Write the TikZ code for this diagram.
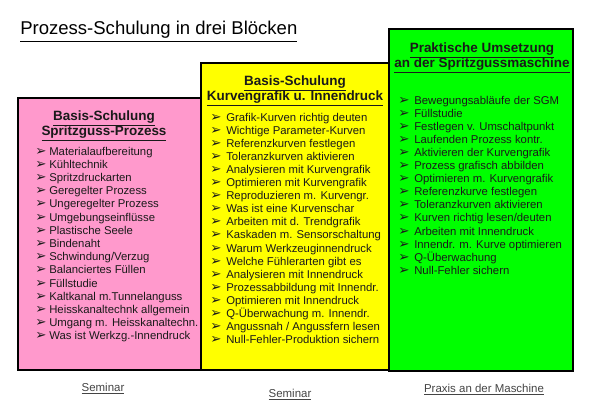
\documentclass[tikz,border=0pt]{standalone}
\usepackage{fontspec}
\setmainfont{Liberation Sans}
\newfontfamily\symfont{DejaVu Sans}
\usetikzlibrary{positioning}

\definecolor{pinkfill}{HTML}{FF99CC}
\definecolor{yellowfill}{HTML}{FFFF00}
\definecolor{greenfill}{HTML}{00FF00}
\definecolor{itemtext}{HTML}{1A1A1A}
\definecolor{capgray}{HTML}{444444}

\newcommand{\bul}[1]{\makebox[#1][l]{\symfont\fontsize{10}{10}\selectfont ➢}}
\newcommand{\ulined}[2]{\leavevmode\vtop{\hbox{#2}\kern1.3pt\hrule height #1}}

\tikzset{
  blockbox/.style={draw=black, line width=2.2pt},
  head/.style={align=center, inner sep=0pt, text=itemtext,
    font=\bfseries\fontsize{10.1}{11.6}\selectfont},
  item/.style={anchor=base west, inner sep=0pt, text=itemtext,
    font=\fontsize{8.5}{10}\selectfont},
  caption/.style={anchor=base, inner sep=0pt, text=capgray,
    font=\fontsize{8.6}{10}\selectfont}
}

\begin{document}
\begin{tikzpicture}[x=0.75pt, y=-0.75pt]
  \useasboundingbox (0,0) rectangle (595,410);

  \node[anchor=base west, inner sep=0pt, font=\fontsize{13.9}{16}\selectfont]
    (title) at (20,35) {\ulined{0.8pt}{Prozess-Schulung in drei Blöcken}};

  % die drei Bloecke
  \draw[blockbox, fill=pinkfill] (18,98) rectangle (203,370);
  \draw[blockbox, fill=yellowfill] (201,63) rectangle (390,370);
  \draw[blockbox, fill=greenfill] (389,29) rectangle (573,371);

  \node[head] (pinkhead) at (104,126) {\ulined{0.7pt}{Basis-Schulung}\\\ulined{0.7pt}{Spritzguss-Prozess}};
  \node[head] (yellowhead) at (295,91) {\ulined{0.7pt}{Basis-Schulung}\\\ulined{0.7pt}{Kurvengrafik u. Innendruck}};
  \node[head] (greenhead) at (482,58) {\ulined{0.7pt}{Praktische Umsetzung}\\\ulined{0.7pt}{an der Spritzgussmaschine}};

  \foreach \t [count=\i] in {Materialaufbereitung, Kühltechnik, Spritzdruckarten,
      Geregelter Prozess, Ungeregelter Prozess, Umgebungseinflüsse, Plastische Seele,
      Bindenaht, Schwindung/Verzug, Balanciertes Füllen, Füllstudie,
      Kaltkanal m.Tunnelanguss, Heisskanaltechnk allgemein, Umgang m. Heisskanaltechn.,
      Was ist Werkzg.-Innendruck}{
    \node[item] (pinkitem\i) at (35,{155+(\i-1)*13.2}) {\bul{10.5pt}\t};
  }

  \foreach \t [count=\i] in {Grafik-Kurven richtig deuten, Wichtige Parameter-Kurven,
      Referenzkurven festlegen, Toleranzkurven aktivieren, Analysieren mit Kurvengrafik,
      Optimieren mit Kurvengrafik, Reproduzieren m. Kurvengr., Was ist eine Kurvenschar,
      Arbeiten mit d. Trendgrafik, Kaskaden m. Sensorschaltung, Warum Werkzeuginnendruck,
      Welche Fühlerarten gibt es, Analysieren mit Innendruck, Prozessabbildung mit Innendr.,
      Optimieren mit Innendruck, Q-Überwachung m. Innendr., Angussnah / Angussfern lesen,
      Null-Fehler-Produktion sichern}{
    \node[item] (yellowitem\i) at (210,{121+(\i-1)*13.1}) {\bul{12pt}\t};
  }

  \foreach \t [count=\i] in {Bewegungsabläufe der SGM, Füllstudie, Festlegen v. Umschaltpunkt,
      Laufenden Prozess kontr., Aktivieren der Kurvengrafik, Prozess grafisch abbilden,
      Optimieren m. Kurvengrafik, Referenzkurve festlegen, Toleranzkurven aktivieren,
      Kurven richtig lesen/deuten, Arbeiten mit Innendruck, Innendr. m. Kurve optimieren,
      Q-Überwachung, Null-Fehler sichern}{
    \node[item] (greenitem\i) at (398,{104+(\i-1)*13.1}) {\bul{12pt}\t};
  }

  \node[caption] (pinkcap) at (103,391) {\ulined{0.5pt}{Seminar}};
  \node[caption] (yellowcap) at (290,397) {\ulined{0.5pt}{Seminar}};
  \node[caption] (greencap) at (484,392) {\ulined{0.5pt}{Praxis an der Maschine}};
\end{tikzpicture}
\end{document}
